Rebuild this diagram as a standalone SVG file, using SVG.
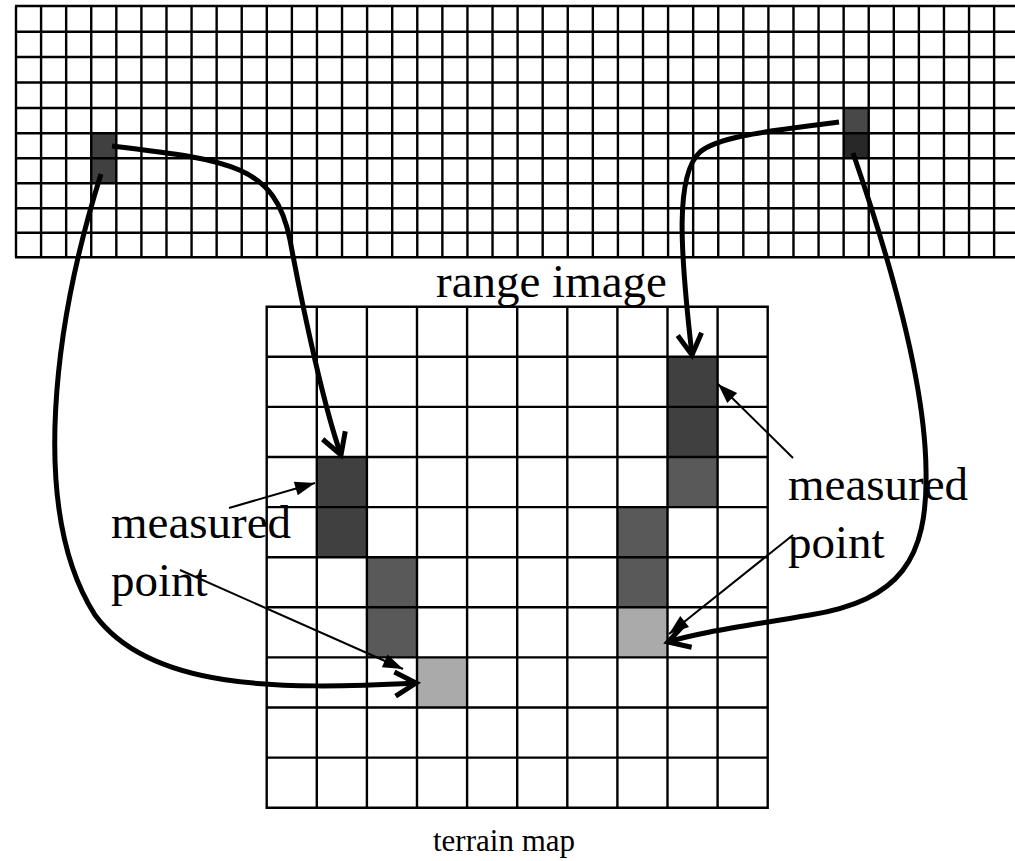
<svg xmlns="http://www.w3.org/2000/svg" width="1015" height="861" viewBox="0 0 1015 861">
<defs>
<style>
.grid{fill:none;stroke:#000;stroke-width:2.4}
.curve{fill:none;stroke:#000;stroke-width:5}
.thin{fill:none;stroke:#000;stroke-width:2}
.lbl{font-family:"Liberation Serif","Times New Roman",serif;fill:#000}
.d1{fill:#404040}
.d2{fill:#595959}
.d3{fill:#aaaaaa}
</style>
<marker id="chev" markerUnits="userSpaceOnUse" markerWidth="40" markerHeight="40" refX="0" refY="0" viewBox="-30 -20 40 40" orient="auto" overflow="visible">
<path d="M-21,-12 L0,0 L-21,12" fill="none" stroke="#000" stroke-width="5" stroke-linecap="butt" stroke-linejoin="miter"/>
</marker>
<marker id="tri" markerUnits="userSpaceOnUse" markerWidth="30" markerHeight="30" refX="0" refY="0" viewBox="-25 -15 30 30" orient="auto" overflow="visible">
<path d="M0,0 L-20,-7 L-20,7 Z" fill="#000"/>
</marker>
</defs>
<rect width="1015" height="861" fill="#fff"/>

<g id="range-image">
<rect class="d1" x="91.24" y="133.3" width="25.08" height="50"/>
<rect fill="#484848" x="843.64" y="108" width="25.08" height="25.3"/>
<rect fill="#282828" x="843.64" y="133.3" width="25.08" height="25"/>
<path class="grid" d="M16,6V257.3M41.08,6V257.3M66.16,6V257.3M91.24,6V257.3M116.32,6V257.3M141.4,6V257.3M166.48,6V257.3M191.56,6V257.3M216.64,6V257.3M241.72,6V257.3M266.8,6V257.3M291.88,6V257.3M316.96,6V257.3M342.04,6V257.3M367.12,6V257.3M392.2,6V257.3M417.28,6V257.3M442.36,6V257.3M467.44,6V257.3M492.52,6V257.3M517.6,6V257.3M542.68,6V257.3M567.76,6V257.3M592.84,6V257.3M617.92,6V257.3M643,6V257.3M668.08,6V257.3M693.16,6V257.3M718.24,6V257.3M743.32,6V257.3M768.4,6V257.3M793.48,6V257.3M818.56,6V257.3M843.64,6V257.3M868.72,6V257.3M893.8,6V257.3M918.88,6V257.3M943.96,6V257.3M969.04,6V257.3M994.12,6V257.3M1019.2,6V257.3M15,6H1020M15,31.7H1020M15,57H1020M15,82.5H1020M15,108H1020M15,133.3H1020M15,158.3H1020M15,183.3H1020M15,208.3H1020M15,232.7H1020M15,257.3H1020"/>
<text class="lbl" x="436" y="297" font-size="47">range image</text>
</g>

<g id="terrain-map">
<rect class="d1" x="316.8" y="457" width="50.1" height="50.1"/>
<rect class="d1" x="316.8" y="507.1" width="50.1" height="50.1"/>
<rect class="d2" x="366.9" y="557.2" width="50.1" height="50.1"/>
<rect class="d2" x="366.9" y="607.3" width="50.1" height="50.1"/>
<rect class="d3" x="417" y="657.4" width="50.1" height="50.1"/>
<rect class="d1" x="667.5" y="356.8" width="50.1" height="50.1"/>
<rect class="d1" x="667.5" y="406.9" width="50.1" height="50.1"/>
<rect class="d2" x="667.5" y="457" width="50.1" height="50.1"/>
<rect class="d2" x="617.4" y="507.1" width="50.1" height="50.1"/>
<rect class="d2" x="617.4" y="557.2" width="50.1" height="50.1"/>
<rect class="d3" x="617.4" y="607.3" width="50.1" height="50.1"/>
<path class="grid" d="M266.7,306.7V807.7M316.8,306.7V807.7M366.9,306.7V807.7M417,306.7V807.7M467.1,306.7V807.7M517.2,306.7V807.7M567.3,306.7V807.7M617.4,306.7V807.7M667.5,306.7V807.7M717.6,306.7V807.7M767.7,306.7V807.7M265.5,306.7H768.9M265.5,356.8H768.9M265.5,406.9H768.9M265.5,457H768.9M265.5,507.1H768.9M265.5,557.2H768.9M265.5,607.3H768.9M265.5,657.4H768.9M265.5,707.5H768.9M265.5,757.6H768.9M265.5,807.7H768.9"/>
<text class="lbl" x="433" y="851" font-size="31">terrain map</text>
</g>

<g id="label-left">
<text class="lbl" x="111" y="538" font-size="47">measured</text>
<text class="lbl" x="111" y="596" font-size="47">point</text>
</g>
<g id="label-right">
<text class="lbl" x="788" y="500" font-size="47">measured</text>
<text class="lbl" x="788" y="558" font-size="47">point</text>
</g>

<g id="connectors">
<path class="curve" marker-end="url(#chev)" d="M112,146 C230,160 275,165 290,240 C305,320 325,410 341,455"/>
<path class="curve" marker-end="url(#chev)" d="M101,174 C55,320 28,510 95,615 C150,690 280,690 416,683"/>
<path class="curve" marker-end="url(#chev)" d="M839,122 C780,130 720,135 700,152 C675,175 680,250 692,355"/>
<path class="curve" marker-end="url(#chev)" d="M853,153 C890,260 925,380 926,470 C928,560 900,600 810,615 C740,627 700,632 668,642"/>
<path class="thin" marker-end="url(#tri)" d="M229,508 L315,483"/>
<path class="thin" marker-end="url(#tri)" d="M180,570 L403,669"/>
<path class="thin" marker-end="url(#tri)" d="M793,458 L718,384"/>
<path class="thin" marker-end="url(#tri)" d="M793,535 L669,634"/>
</g>
</svg>
